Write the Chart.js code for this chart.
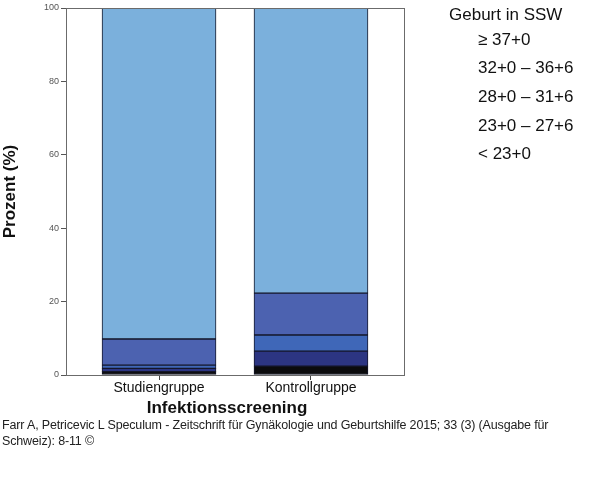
<!DOCTYPE html>
<html>
<head>
<meta charset="utf-8">
<script src="https://cdn.jsdelivr.net/npm/chart.js@4"></script>
<style>
  html,body{margin:0;padding:0;background:#fff;}
  #wrap{position:relative;width:600px;height:481px;}
  #c{position:absolute;left:0;top:0;}
  #cite{position:absolute;left:2px;top:417px;width:570px;font-family:"Liberation Sans",Arial,sans-serif;font-size:12.5px;line-height:16px;color:#222;letter-spacing:-0.15px;}
</style>
</head>
<body>
<div id="wrap">
  <canvas id="c" width="600" height="420"></canvas>
  <div id="cite">Farr A, Petricevic L Speculum - Zeitschrift für Gynäkologie und Geburtshilfe 2015; 33 (3) (Ausgabe für Schweiz): 8-11 ©</div>
</div>
<script>
const categories = ['Studiengruppe', 'Kontrollgruppe'];
const seriesNames = ['< 23+0', '23+0 \u2013 27+6', '28+0 \u2013 31+6', '32+0 \u2013 36+6', '\u2265 37+0'];
const lt23 = [0.9, 2.4];
const w23to27 = [0.9, 4.1];
const w28to31 = [0.9, 4.4];
const w32to36 = [7.1, 11.4];
const ge37 = [90.2, 77.7];
const yTicks = [0, 20, 40, 60, 80, 100];
const legendTitle = 'Geburt in SSW';
const xTitle = 'Infektionsscreening';
const yTitle = 'Prozent (%)';

const colors = ['#0b0b0d', '#2c3582', '#3f67b8', '#4c62b0', '#7bb0dc'];
const seriesValues = [lt23, w23to27, w28to31, w32to36, ge37];

const FONT = '"Liberation Sans", Arial, sans-serif';

const datasets = seriesValues.map((vals, k) => ({
  label: seriesNames[k],
  data: vals.map((v, i) => ({x: i, y: v})),
  backgroundColor: colors[k],
  borderColor: '#15172a',
  borderWidth: 1,
  borderSkipped: false,
  barThickness: 114
}));

const framePlugin = {
  id: 'frame',
  afterDraw(chart) {
    const ctx = chart.ctx, a = chart.chartArea;
    ctx.save();
    ctx.strokeStyle = '#6b6b6b';
    ctx.lineWidth = 1;
    ctx.strokeRect(Math.round(a.left) + 0.5, Math.round(a.top) + 0.5, Math.round(a.right - a.left), Math.round(a.bottom - a.top));
    // x title
    ctx.fillStyle = '#111';
    ctx.font = 'bold 17px ' + FONT;
    ctx.textAlign = 'center';
    ctx.textBaseline = 'middle';
    ctx.fillText(xTitle, 227, 408);
    // legend
    ctx.font = '17px ' + FONT;
    ctx.textAlign = 'left';
    ctx.fillText(legendTitle, 449, 15);
    const order = [4, 3, 2, 1, 0];
    order.forEach((k, j) => {
      ctx.fillText(seriesNames[k], 478, 40 + j * 28.7);
    });
    ctx.restore();
  }
};

new Chart(document.getElementById('c'), {
  type: 'bar',
  data: { datasets },
  options: {
    responsive: false,
    animation: false,
    layout: { padding: { left: 0, right: 196, top: 8, bottom: 0 } },
    plugins: { legend: { display: false }, tooltip: { enabled: false } },
    scales: {
      x: {
        type: 'linear',
        stacked: true,
        offset: false,
        min: -0.612,
        max: 1.612,
        afterBuildTicks(scale) { scale.ticks = categories.map((c, i) => ({value: i})); },
        afterFit(scale) { scale.height = 45; },
        ticks: {
          callback: (v) => categories[v],
          color: '#111',
          font: { family: FONT, size: 14 },
          padding: 0,
          maxRotation: 0
        },
        grid: { drawOnChartArea: false, offset: false, tickLength: 5, color: '#444' },
        border: { display: false }
      },
      y: {
        stacked: true,
        min: 0,
        max: 100,
        afterBuildTicks(scale) { scale.ticks = yTicks.map(v => ({value: v})); },
        afterFit(scale) { scale.width = 66; },
        ticks: {
          color: '#555',
          font: { family: FONT, size: 9 },
          padding: 2
        },
        grid: { drawOnChartArea: false, tickLength: 5, color: '#555' },
        border: { display: false },
        title: {
          display: true,
          text: yTitle,
          color: '#111',
          font: { family: FONT, size: 17, weight: 'bold' },
          padding: { top: 0, bottom: 8 }
        }
      }
    }
  },
  plugins: [framePlugin]
});
</script>
</body>
</html>
